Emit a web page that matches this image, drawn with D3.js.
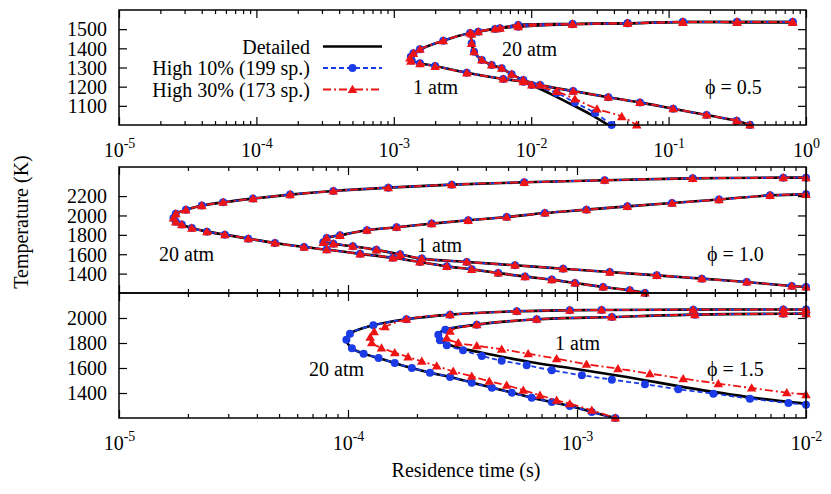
<!DOCTYPE html>
<html>
<head>
<meta charset="utf-8">
<script src="https://cdn.jsdelivr.net/npm/d3@7"></script>
<style>
  body { margin: 0; background: #fff; }
  svg { display: block; }
  svg text { font-family: "Liberation Serif", "Times New Roman", "DejaVu Serif", serif; }
</style>
</head>
<body>
<div id="chart"></div>
<script>
// ---- data: [residence time (s), temperature (K)] ----
// phi = 0.5
const phi05_1atm_det = [
  [0.80, 1537], [0.315, 1537], [0.127, 1537], [0.0503, 1531], [0.020, 1527], [8.05e-3, 1522],
  [5.46e-3, 1501], [3.59e-3, 1480], [2.29e-3, 1440], [1.55e-3, 1395], [1.39e-3, 1374], [1.33e-3, 1356],
  [1.35e-3, 1337], [1.55e-3, 1322], [2.0e-3, 1308], [3.40e-3, 1273], [6.26e-3, 1240], [8.77e-3, 1226],
  [0.0101, 1209], [0.0137, 1164], [0.0191, 1112], [0.0268, 1057], [0.0364, 1000],
];
const phi05_1atm_h10 = [
  [0.80, 1537], [0.315, 1537], [0.127, 1537], [0.0503, 1531], [0.020, 1527], [8.05e-3, 1522],
  [5.46e-3, 1501], [3.59e-3, 1480], [2.29e-3, 1440], [1.55e-3, 1395], [1.39e-3, 1374], [1.33e-3, 1356],
  [1.35e-3, 1337], [1.55e-3, 1322], [2.0e-3, 1308], [3.40e-3, 1273], [6.26e-3, 1240], [8.77e-3, 1226],
  [0.0101, 1209], [0.0153, 1167], [0.0208, 1117], [0.0291, 1063], [0.0385, 1000],
];
const phi05_1atm_h30 = [
  [0.80, 1537], [0.315, 1537], [0.127, 1537], [0.0503, 1531], [0.020, 1527], [8.05e-3, 1522],
  [5.46e-3, 1501], [3.59e-3, 1480], [2.29e-3, 1440], [1.55e-3, 1395], [1.39e-3, 1374], [1.31e-3, 1350],
  [1.33e-3, 1333], [1.55e-3, 1320], [2.0e-3, 1306], [3.40e-3, 1272], [6.26e-3, 1240], [8.77e-3, 1226],
  [0.0101, 1209], [0.0153, 1175], [0.0208, 1136], [0.0301, 1084], [0.0456, 1044], [0.0586, 1000],
];
const phi05_20atm_det = [
  [0.80, 1537], [0.315, 1537], [0.127, 1537], [0.0503, 1531], [0.020, 1526], [8.05e-3, 1513],
  [5.93e-3, 1505], [4.12e-3, 1487], [3.69e-3, 1475], [3.69e-3, 1426], [3.84e-3, 1382], [4.37e-3, 1339],
  [5.16e-3, 1313], [6.1e-3, 1296], [7.21e-3, 1265], [8.77e-3, 1235], [0.0116, 1209], [0.0202, 1177],
  [0.0364, 1145], [0.0619, 1118], [0.108, 1085], [0.189, 1052], [0.313, 1022], [0.391, 1000],
];
const phi05_20atm_h10 = phi05_20atm_det; // reduced models follow the detailed curve here
const phi05_20atm_h30 = phi05_20atm_det;

// phi = 1.0
const phi10_20atm_det = [
  [1e-2, 2390], [7.96e-3, 2390], [3.2e-3, 2383], [1.32e-3, 2363], [5.88e-4, 2342], [2.84e-4, 2318],
  [1.5e-4, 2287], [8.63e-5, 2252], [5.59e-5, 2215], [3.85e-5, 2174], [2.85e-5, 2136], [2.30e-5, 2102],
  [1.96e-5, 2058], [1.77e-5, 2017], [1.73e-5, 1974], [1.77e-5, 1934], [1.88e-5, 1906], [2.08e-5, 1870],
  [2.42e-5, 1833], [2.9e-5, 1802], [3.67e-5, 1761], [4.8e-5, 1716], [6.43e-5, 1674], [8.07e-5, 1648],
  [1.13e-4, 1604], [1.57e-4, 1563], [2.06e-4, 1520], [2.70e-4, 1475], [3.47e-4, 1444], [4.53e-4, 1406],
  [5.93e-4, 1369], [7.76e-4, 1338], [9.8e-4, 1303], [1.30e-3, 1262], [1.70e-3, 1228], [1.98e-3, 1200],
];
const phi10_20atm_h10 = phi10_20atm_det;
const phi10_20atm_h30 = phi10_20atm_det;
const phi10_1atm_det = [
  [1e-2, 2218], [6.97e-3, 2208], [4.17e-3, 2164], [2.6e-3, 2128], [1.66e-3, 2094], [1.10e-3, 2060],
  [7.24e-4, 2025], [4.93e-4, 1984], [3.35e-4, 1950], [2.32e-4, 1916], [1.63e-4, 1878], [1.21e-4, 1847],
  [9.23e-5, 1795], [8.07e-5, 1767], [7.8e-5, 1723], [8.63e-5, 1707], [1.05e-4, 1682], [1.33e-4, 1645],
  [1.69e-4, 1599], [2.1e-4, 1555], [3.3e-4, 1520], [5.36e-4, 1486], [8.7e-4, 1451], [1.39e-3, 1416],
  [2.23e-3, 1382], [3.51e-3, 1348], [5.51e-3, 1313], [8.67e-3, 1272], [1e-2, 1262],
];
const phi10_1atm_h10 = phi10_1atm_det;
const phi10_1atm_h30 = phi10_1atm_det;

// phi = 1.5
const phi15_20atm_det = [
  [1e-2, 2068], [7.96e-3, 2068], [3.22e-3, 2067], [1.28e-3, 2064], [9.3e-4, 2062], [5.46e-4, 2054],
  [2.79e-4, 2027], [1.8e-4, 1990], [1.29e-4, 1942], [1.02e-4, 1875], [9.84e-5, 1826], [1.04e-4, 1758],
  [1.17e-4, 1715], [1.36e-4, 1680], [1.6e-4, 1640], [1.9e-4, 1600], [2.28e-4, 1563], [2.79e-4, 1528],
  [3.47e-4, 1483], [4.25e-4, 1443], [5.19e-4, 1403], [6.34e-4, 1363], [7.76e-4, 1328], [9.3e-4, 1296],
  [1.16e-3, 1248], [1.47e-3, 1200],
];
const phi15_20atm_h10 = phi15_20atm_det;
const phi15_20atm_h30 = [
  [1e-2, 2068], [7.96e-3, 2068], [3.22e-3, 2067], [1.28e-3, 2064], [9.3e-4, 2062], [5.46e-4, 2054],
  [2.79e-4, 2027], [1.8e-4, 1990], [1.45e-4, 1930], [1.3e-4, 1890], [1.25e-4, 1846], [1.27e-4, 1802],
  [1.4e-4, 1760], [1.6e-4, 1723], [1.83e-4, 1688], [2.1e-4, 1654], [2.44e-4, 1616], [2.88e-4, 1574],
  [3.47e-4, 1534], [4.14e-4, 1494], [4.93e-4, 1462], [5.83e-4, 1422], [6.89e-4, 1382], [8.15e-4, 1342],
  [9.3e-4, 1315], [1.16e-3, 1262], [1.47e-3, 1200],
];
const phi15_1atm_det = [
  [1e-2, 2035], [7.96e-3, 2034], [3.27e-3, 2027], [1.42e-3, 2008], [6.67e-4, 1990], [3.65e-4, 1947],
  [2.66e-4, 1907], [2.52e-4, 1886], [2.48e-4, 1858], [2.57e-4, 1818], [2.93e-4, 1770], [3.77e-4, 1726],
  [6.24e-4, 1648], [9.3e-4, 1600], [1.65e-3, 1528], [3.22e-3, 1435], [6.29e-3, 1355], [1e-2, 1315],
];
const phi15_1atm_h10 = [
  [1e-2, 2035], [7.96e-3, 2034], [3.27e-3, 2027], [1.42e-3, 2008], [6.67e-4, 1990], [3.65e-4, 1947],
  [2.66e-4, 1907], [2.48e-4, 1866], [2.52e-4, 1822], [2.7e-4, 1782], [3.18e-4, 1742], [3.84e-4, 1696],
  [4.69e-4, 1659], [6.03e-4, 1622], [7.76e-4, 1582], [1.05e-3, 1542], [1.42e-3, 1507], [1.98e-3, 1470],
  [2.77e-3, 1430], [3.94e-3, 1395], [5.69e-3, 1355], [8.38e-3, 1320], [1e-2, 1307],
];
const phi15_1atm_h30 = [
  [1e-2, 2035], [7.96e-3, 2034], [3.27e-3, 2027], [1.42e-3, 2008], [6.67e-4, 1990], [3.65e-4, 1947],
  [2.79e-4, 1894], [2.7e-4, 1840], [3.03e-4, 1802], [3.65e-4, 1778], [4.69e-4, 1750], [6.12e-4, 1714],
  [8.15e-4, 1675], [1.10e-3, 1630], [1.51e-3, 1595], [2.08e-3, 1555], [2.91e-3, 1515], [4.14e-3, 1475],
  [5.79e-3, 1440], [8.24e-3, 1403], [1e-2, 1387],
];

// ---- axes / labels ----
const xDomainTop = [1e-5, 1];
const xDomainLow = [1e-5, 1e-2];
const yDomainPhi05 = [1000, 1600];
const yDomainPhi10 = [1200, 2500];
const yDomainPhi15 = [1200, 2200];
const yTicksPhi05 = [1100, 1200, 1300, 1400, 1500];
const yTicksPhi10 = [1400, 1600, 1800, 2000, 2200];
const yTicksPhi15 = [1400, 1600, 1800, 2000];
const seriesNames = ['Detailed', 'High 10% (199 sp.)', 'High 30% (173 sp.)'];
const xTitle = 'Residence time (s)';
const yTitle = 'Temperature (K)';

const style = {
  font: 20,
  supFont: 14,
  det: { color: '#000', width: 2.6, dash: null },
  h10: { color: '#1b3be6', width: 1.8, dash: '5,3' },
  h30: { color: '#ee1414', width: 1.8, dash: '8,3,2,3' },
  frame: 1.5,
  major: 8,
  minor: 4,
};

const left = 119;
const right = 806;

const panels = [
  {
    top: 10, bottom: 125, xDomain: xDomainTop, yDomain: yDomainPhi05, yTicks: yTicksPhi05, xLabels: true,
    curves: [[phi05_1atm_det, phi05_1atm_h10, phi05_1atm_h30], [phi05_20atm_det, phi05_20atm_h10, phi05_20atm_h30]],
    labels: [['20 atm', 502, 55.5], ['1 atm', 413, 94], ['\u03d5 = 0.5', 705, 94]],
  },
  {
    top: 167, bottom: 293, xDomain: xDomainLow, yDomain: yDomainPhi10, yTicks: yTicksPhi10, xLabels: false,
    curves: [[phi10_20atm_det, phi10_20atm_h10, phi10_20atm_h30], [phi10_1atm_det, phi10_1atm_h10, phi10_1atm_h30]],
    labels: [['20 atm', 159, 260.5], ['1 atm', 417, 251.5], ['\u03d5 = 1.0', 707, 260.5]],
  },
  {
    top: 293, bottom: 418, xDomain: xDomainLow, yDomain: yDomainPhi15, yTicks: yTicksPhi15, xLabels: true,
    curves: [[phi15_20atm_det, phi15_20atm_h10, phi15_20atm_h30], [phi15_1atm_det, phi15_1atm_h10, phi15_1atm_h30]],
    labels: [['20 atm', 309, 375.5], ['1 atm', 555, 350], ['\u03d5 = 1.5', 707, 376]],
  },
];

const svg = d3.select('#chart').append('svg')
  .attr('width', 831)
  .attr('height', 494);

const isDecade = (v) => Math.abs(Math.log10(v) - Math.round(Math.log10(v))) < 1e-6;

function drawMarker(g, kind, cx, cy, color) {
  if (kind === 'h10') {
    g.append('circle').attr('cx', cx).attr('cy', cy).attr('r', 4).attr('fill', color);
  } else if (kind === 'h30') {
    g.append('path')
      .attr('d', d3.symbol(d3.symbolTriangle, 40)())
      .attr('transform', `translate(${cx},${cy + 0.8})`)
      .attr('fill', color);
  }
}

function styleAxis(sel) {
  sel.select('.domain').remove();
  sel.selectAll('line').attr('stroke', '#000').attr('stroke-width', 1.2);
  sel.attr('font-family', null).attr('font-size', style.font);
  sel.selectAll('text').attr('fill', '#000');
}

panels.forEach((p, i) => {
  const x = d3.scaleLog().domain(p.xDomain).range([left, right]);
  const y = d3.scaleLinear().domain(p.yDomain).range([p.bottom, p.top]);
  const g = svg.append('g').attr('class', 'panel');

  const decades = x.ticks().filter(isDecade);
  const minors = x.ticks().filter((v) => !isDecade(v));

  // x ticks (inward) on bottom and top edges
  [[d3.axisBottom, p.bottom], [d3.axisTop, p.top]].forEach(([gen, yPos]) => {
    g.append('g').attr('transform', `translate(0,${yPos})`)
      .call(gen(x).tickValues(minors).tickSizeInner(-style.minor).tickSizeOuter(0).tickFormat(''))
      .call(styleAxis);
    g.append('g').attr('transform', `translate(0,${yPos})`)
      .call(gen(x).tickValues(decades).tickSizeInner(-style.major).tickSizeOuter(0).tickFormat(''))
      .call(styleAxis);
  });

  if (p.xLabels) {
    const ax = g.append('g').attr('transform', `translate(0,${p.bottom})`)
      .call(d3.axisBottom(x).tickValues(decades).tickSize(0).tickFormat(''))
      .call(styleAxis);
    ax.selectAll('.tick text').each(function (d) {
      const t = d3.select(this).attr('y', 31.5).attr('dy', 0).attr('text-anchor', 'middle');
      t.append('tspan').text('10');
      t.append('tspan').attr('dy', -9).attr('font-size', style.supFont)
        .text(String(Math.round(Math.log10(d))));
    });
  }

  // y ticks
  g.append('g').attr('transform', `translate(${left},0)`)
    .call(d3.axisLeft(y).tickValues(p.yTicks).tickSizeInner(-style.major).tickSizeOuter(0)
      .tickPadding(12).tickFormat(d3.format('d')))
    .call(styleAxis)
    .selectAll('text').attr('dy', '0.34em');
  g.append('g').attr('transform', `translate(${right},0)`)
    .call(d3.axisRight(y).tickValues(p.yTicks).tickSizeInner(-style.major).tickSizeOuter(0).tickFormat(''))
    .call(styleAxis);

  // curves
  const clipId = `clip-${i}`;
  svg.append('clipPath').attr('id', clipId).append('rect')
    .attr('x', left).attr('y', p.top).attr('width', right - left).attr('height', p.bottom - p.top);

  const line = d3.line()
    .x((d) => x(d[0]))
    .y((d) => y(d[1]))
    .curve(d3.curveCatmullRom.alpha(0.5));

  const plot = g.append('g').attr('class', 'plot');
  ['det', 'h10', 'h30'].forEach((kind, k) => {
    p.curves.forEach((c) => {
      const data = c[k];
      const s = style[kind];
      plot.append('path')
        .attr('clip-path', `url(#${clipId})`)
        .attr('d', line(data))
        .attr('fill', 'none')
        .attr('stroke', s.color)
        .attr('stroke-width', s.width)
        .attr('stroke-dasharray', s.dash)
        .attr('stroke-linejoin', 'round');
      if (kind !== 'det') {
        data.forEach((d) => drawMarker(plot, kind, x(d[0]), y(d[1]), s.color));
      }
    });
  });

  // frame
  g.append('rect')
    .attr('x', left).attr('y', p.top)
    .attr('width', right - left).attr('height', p.bottom - p.top)
    .attr('fill', 'none').attr('stroke', '#000').attr('stroke-width', style.frame);

  // in-panel labels
  p.labels.forEach(([txt, lx, ly]) => {
    g.append('text').attr('x', lx).attr('y', ly)
      .attr('font-size', style.font).attr('fill', '#000').text(txt);
  });
});

// legend (top panel)
const legend = svg.append('g').attr('class', 'legend');
['det', 'h10', 'h30'].forEach((kind, k) => {
  const ly = 46.5 + k * 21.5;
  const s = style[kind];
  legend.append('text').attr('x', 310).attr('y', ly + 7)
    .attr('text-anchor', 'end').attr('font-size', style.font).text(seriesNames[k]);
  legend.append('line')
    .attr('x1', 323).attr('x2', 382).attr('y1', ly).attr('y2', ly)
    .attr('stroke', s.color).attr('stroke-width', s.width)
    .attr('stroke-dasharray', s.dash);
  if (kind !== 'det') drawMarker(legend, kind, 352.5, ly, s.color);
});

// axis titles
svg.append('text')
  .attr('x', 466).attr('y', 477)
  .attr('text-anchor', 'middle').attr('font-size', style.font)
  .text(xTitle);
svg.append('text')
  .attr('transform', 'translate(28,222) rotate(-90)')
  .attr('text-anchor', 'middle').attr('font-size', style.font)
  .text(yTitle);
</script>
</body>
</html>
